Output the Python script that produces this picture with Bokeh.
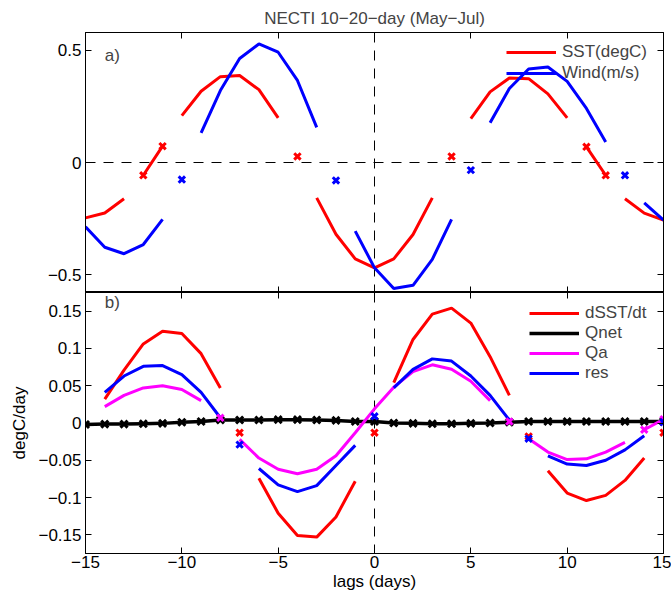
import numpy as np
from bokeh.plotting import figure
from bokeh.models import (ColumnDataSource, Span, Label, Legend, LegendItem,
                          LinearAxis, FixedTicker, Range1d, CustomLabelingPolicy)
from bokeh.layouts import column
from bokeh.embed import file_html
from bokeh.resources import INLINE

nan = float("nan")

# ---------------- data ----------------
lags = [-15, -14, -13, -12, -11, -10, -9, -8, -7, -6, -5, -4, -3, -2, -1, 0,
        1, 2, 3, 4, 5, 6, 7, 8, 9, 10, 11, 12, 13, 14, 15]

# panel a)
sst = [-0.247, -0.225, -0.162, -0.057, 0.073, 0.209, 0.318, 0.383, 0.388, 0.325, 0.199,
       0.027, -0.158, -0.320, -0.430, -0.470, -0.430, -0.321, -0.158, 0.027, 0.196,
       0.315, 0.377, 0.374, 0.306, 0.199, 0.070, -0.057, -0.162, -0.226, -0.257]
sst_sig = [1, 1, 1, 0, 0, 1, 1, 1, 1, 1, 1, 0, 1, 1, 1, 1, 1, 1, 1, 0, 1,
           1, 1, 1, 1, 1, 0, 0, 1, 1, 1]
wind = [-0.287, -0.378, -0.407, -0.366, -0.254, -0.076, 0.132, 0.321, 0.464, 0.529, 0.492,
        0.366, 0.157, -0.080, -0.306, -0.470, -0.562, -0.548, -0.432, -0.254, -0.034,
        0.177, 0.330, 0.417, 0.426, 0.362, 0.241, 0.092, -0.057, -0.180, -0.257]
wind_sig = [1, 1, 1, 1, 1, 0, 1, 1, 1, 1, 1, 1, 1, 0, 1, 1, 1, 1, 1, 1, 0,
            1, 1, 1, 1, 1, 1, 1, 0, 1, 1]

# panel b)
dsst = [nan, 0.032, 0.071, 0.106, 0.123, 0.120, 0.093, 0.047, -0.013, -0.074, -0.121,
        -0.151, -0.153, -0.126, -0.078, -0.013, 0.054, 0.112, 0.146, 0.154, 0.134,
        0.089, 0.037, -0.018, -0.064, -0.094, -0.104, -0.097, -0.077, -0.047, -0.013]
dsst_sig = [0, 1, 1, 1, 1, 1, 1, 1, 0, 1, 1, 1, 1, 1, 1, 0, 1, 1, 1, 1, 1,
            1, 1, 0, 1, 1, 1, 1, 1, 1, 0]
qnet = [-0.002, -0.0015, -0.0015, -0.001, -0.0005, 0.001, 0.002, 0.004, 0.004, 0.004, 0.0045,
        0.0045, 0.004, 0.0035, 0.002, 0.002, 0.0, -0.0005, -0.001, -0.001, -0.0005,
        0.0, 0.001, 0.002, 0.002, 0.002, 0.002, 0.002, 0.002, 0.002, 0.002]
qnet_sig = [0] * 31
qa = [nan, 0.022, 0.037, 0.047, 0.050, 0.045, 0.030, 0.007, -0.022, -0.047, -0.062,
      -0.068, -0.062, -0.044, -0.013, 0.019, 0.048, 0.069, 0.078, 0.072, 0.056,
      0.030, 0.002, -0.021, -0.039, -0.049, -0.048, -0.039, -0.026, -0.009, 0.005]
qa_sig = [0, 1, 1, 1, 1, 1, 1, 0, 1, 1, 1, 1, 1, 1, 1, 1, 1, 1, 1, 1, 1,
          1, 0, 1, 1, 1, 1, 1, 1, 0, 0]
res = [nan, 0.041, 0.063, 0.076, 0.077, 0.065, 0.041, 0.007, -0.029, -0.061, -0.083,
       -0.092, -0.084, -0.057, -0.030, 0.009, 0.047, 0.072, 0.086, 0.083, 0.063,
       0.037, 0.004, -0.021, -0.044, -0.055, -0.057, -0.050, -0.036, -0.017, 0.001]
res_sig = [0, 1, 1, 1, 1, 1, 1, 1, 0, 1, 1, 1, 1, 1, 1, 0, 1, 1, 1, 1, 1,
           1, 1, 0, 1, 1, 1, 1, 1, 1, 0]

x_ticks = [-15, -10, -5, 0, 5, 10, 15]
x_tick_labels = ["\u221215", "\u221210", "\u22125", "0", "5", "10", "15"]
ya_ticks = [-0.5, 0, 0.5]
ya_tick_labels = ["\u22120.5", "0", "0.5"]
yb_ticks = [-0.15, -0.1, -0.05, 0, 0.05, 0.1, 0.15]
yb_tick_labels = ["\u22120.15", "\u22120.1", "\u22120.05", "0", "0.05", "0.1", "0.15"]

TITLE = "NECTI 10\u221220\u2212day (May\u2212Jul)"
FONT = "Liberation Sans"
FS = "17px"
RED, BLUE, MAG, BLK = "#ff0000", "#0000ff", "#ff00ff", "#000000"

NO_LABELS = "for (const i of indices) { indices.unset(i) }\nreturn indices"


def split(vals, flags):
    v = np.array(vals, dtype=float)
    f = np.array(flags)
    sig = np.where(f == 1, v, np.nan)
    ins = np.where(f == 0, v, np.nan)
    return sig, ins


def style_axis(ax, show_labels):
    ax.axis_line_color = "black"
    ax.axis_line_width = 1
    ax.major_tick_in = 6
    ax.major_tick_out = 0
    ax.minor_tick_in = 0
    ax.minor_tick_out = 0
    ax.major_tick_line_color = "black"
    ax.major_tick_line_width = 1
    ax.major_label_text_font = FONT
    ax.major_label_text_color = "black"
    ax.axis_label_text_font = FONT
    ax.axis_label_text_font_size = FS
    ax.axis_label_text_font_style = "normal"
    ax.axis_label_text_color = "black"
    if show_labels:
        ax.major_label_text_font_size = FS
        ax.major_label_standoff = 4
    else:
        ax.major_label_text_font_size = "0px"
        ax.major_label_standoff = 0
        ax.major_label_policy = CustomLabelingPolicy(code=NO_LABELS)


def add_axes(p, yticks, ylabels, show_x, ylabel=None, xlabel=None):
    left = LinearAxis(ticker=FixedTicker(ticks=yticks))
    style_axis(left, True)
    left.major_label_overrides = dict(zip(yticks, ylabels))
    if ylabel:
        left.axis_label = ylabel
        left.axis_label_standoff = 6
    p.add_layout(left, "left")
    right = LinearAxis(ticker=FixedTicker(ticks=yticks))
    style_axis(right, False)
    p.add_layout(right, "right")
    below = LinearAxis(ticker=FixedTicker(ticks=x_ticks))
    style_axis(below, show_x)
    if show_x:
        below.major_label_overrides = dict(zip(x_ticks, x_tick_labels))
        below.major_label_standoff = 2
    if xlabel:
        below.axis_label = xlabel
        below.axis_label_standoff = 1
    p.add_layout(below, "below")
    above = LinearAxis(ticker=FixedTicker(ticks=x_ticks))
    style_axis(above, False)
    p.add_layout(above, "above")


def make_fig(height, yr, top, bottom, title=None):
    p = figure(width=671, height=height, x_range=Range1d(-15, 15), y_range=Range1d(*yr),
               output_backend="svg", toolbar_location=None,
               x_axis_location=None, y_axis_location=None,
               min_border_left=85, min_border_right=8,
               min_border_top=top, min_border_bottom=bottom, title=title)
    p.outline_line_color = "black"
    p.outline_line_width = 1
    p.xgrid.visible = False
    p.ygrid.visible = False
    p.background_fill_color = "white"
    p.border_fill_color = "white"
    return p


def draw(p, vals, flags, color, lw=3):
    sig, ins = split(vals, flags)
    src = ColumnDataSource(dict(x=np.array(lags, dtype=float), sig=sig, ins=ins))
    r_sig = p.line("x", "sig", source=src, line_color=color, line_width=lw)
    r_ins = p.line("x", "ins", source=src, line_color=color, line_width=lw)
    return src, r_sig, r_ins


def marks(p, src, color, msize=8):
    p.scatter("x", "ins", source=src, marker="x", size=msize, line_color=color, line_width=3)


# ---------------- panel a ----------------
p1 = make_fig(292, (-0.58, 0.58), 32, 0, TITLE)
p1.title.text_font = FONT
p1.title.text_font_size = FS
p1.title.text_font_style = "normal"
p1.title.align = "center"
p1.title.standoff = 10
add_axes(p1, ya_ticks, ya_tick_labels, False)

p1.add_layout(Span(location=0, dimension="width", line_color="black", line_width=1,
                   line_dash="10 8", level="underlay"))
p1.add_layout(Span(location=0, dimension="height", line_color="black", line_width=1,
                   line_dash="10 8", level="underlay"))

s_sst, r_sst, _ = draw(p1, sst, sst_sig, RED)
s_wind, r_wind, _ = draw(p1, wind, wind_sig, BLUE)
marks(p1, s_sst, RED, 9)
marks(p1, s_wind, BLUE, 9)

leg1 = Legend(items=[LegendItem(label="SST(degC)", renderers=[r_sst]),
                     LegendItem(label="Wind(m/s)", renderers=[r_wind])],
              location="top_right", margin=10, padding=10, spacing=1,
              glyph_width=50, glyph_height=20, label_height=20, label_width=91,
              label_standoff=6, border_line_color=None, background_fill_alpha=0,
              label_text_font=FONT, label_text_font_size=FS)
p1.add_layout(leg1)
p1.add_layout(Label(x=-14, y=0.478, text="a)", text_font=FONT, text_font_size=FS,
                    text_baseline="middle", text_align="left"))

# ---------------- panel b ----------------
p2 = make_fig(306, (-0.175, 0.175), 0, 45)
add_axes(p2, yb_ticks, yb_tick_labels, True, ylabel="degC/day", xlabel="lags (days)")
p2.add_layout(Span(location=0, dimension="height", line_color="black", line_width=1,
                   line_dash="10 8", level="underlay"))

s_qnet, _, r_qnet = draw(p2, qnet, qnet_sig, BLK, 3.5)
s_dsst, r_dsst, _ = draw(p2, dsst, dsst_sig, RED)
s_qa, r_qa, _ = draw(p2, qa, qa_sig, MAG)
s_res, r_res, _ = draw(p2, res, res_sig, BLUE)
marks(p2, s_qnet, BLK, 10)
marks(p2, s_dsst, RED, 9)
marks(p2, s_qa, MAG, 9)
marks(p2, s_res, BLUE, 9)

leg2 = Legend(items=[LegendItem(label="dSST/dt", renderers=[r_dsst]),
                     LegendItem(label="Qnet", renderers=[r_qnet]),
                     LegendItem(label="Qa", renderers=[r_qa]),
                     LegendItem(label="res", renderers=[r_res])],
              location="top_right", margin=11, padding=10, spacing=0,
              glyph_width=50, glyph_height=20, label_height=20, label_width=67,
              label_standoff=6, border_line_color=None, background_fill_alpha=0,
              label_text_font=FONT, label_text_font_size=FS)
p2.add_layout(leg2)
p2.add_layout(Label(x=-14, y=0.161, text="b)", text_font=FONT, text_font_size=FS,
                    text_baseline="middle", text_align="left"))

layout = column(p1, p2, spacing=0)
open("out.html", "w").write(file_html(layout, INLINE, "NECTI"))
